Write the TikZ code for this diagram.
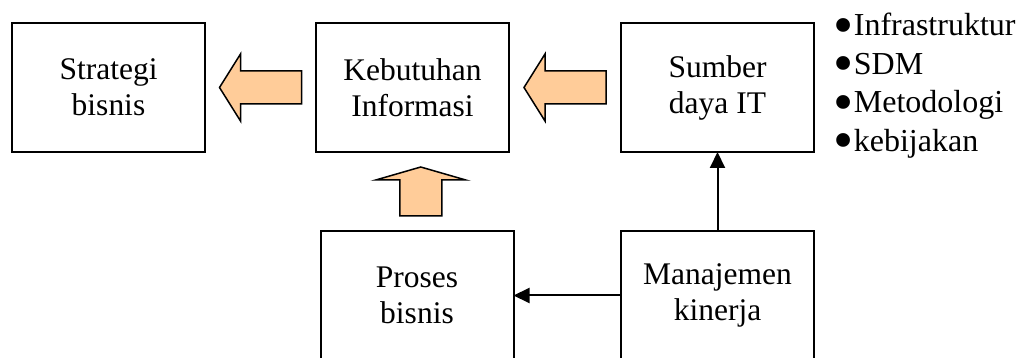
\documentclass[tikz,border=0pt]{standalone}
\usepackage{fontspec}
\setmainfont{Liberation Serif}
\usepackage{graphicx}
\usepackage{xcolor}
\usepackage{tikz}
\usetikzlibrary{arrows.meta,positioning,calc}

\definecolor{peach}{RGB}{255,204,153}

\newcommand{\itembullet}{\smash{\raisebox{-8.5pt}{\scalebox{1.8}{\textbullet}}}\hspace{0.5pt}}

\begin{document}
\begin{tikzpicture}[
    x=1pt, y=1pt,
    box/.style={
        draw,
        line width=2pt,
        outer sep=0pt,
        align=center,
        minimum width=193pt,
        minimum height=129pt,
        font=\fontsize{31.5}{36}\selectfont
    },
    fat/.style={
        draw,
        fill=peach,
        line width=1.5pt,
        line join=miter
    },
    link/.style={
        -{Triangle[length=16pt,width=15pt]},
        line width=2pt
    },
    items/.style={
        align=left,
        inner sep=0pt,
        font=\fontsize{32}{38.5}\selectfont
    }
]

\useasboundingbox (0,0) rectangle (1021,-358);

%---------------------------------------------------------------------
% Boxes
%---------------------------------------------------------------------

\node[box] (strat) at (108.5,-87.5) {Strategi\\bisnis};

\node[box, right=111pt of strat] (keb) {Kebutuhan\\Informasi};

\node[box, right=112pt of keb] (sum) {Sumber\\daya IT};

\node[box, below=79pt of keb, xshift=4.5pt] (pro) {Proses\\bisnis};

\node[box, below=79pt of sum] (man) {Manajemen\\kinerja};

%---------------------------------------------------------------------
% IT resources
%---------------------------------------------------------------------

\node[items, anchor=north west] (res) at ($(sum.north east)+(19,10)$) {
    \itembullet Infrastruktur\\
    \itembullet SDM\\
    \itembullet Metodologi\\
    \itembullet kebijakan
};

%---------------------------------------------------------------------
% Block arrows
%---------------------------------------------------------------------

\coordinate (a1) at ($(strat.east)!0.5!(keb.west)$);
\coordinate (a2) at ($(keb.east)!0.5!(sum.west)$);
\coordinate (a3) at ($(keb.south)!0.5!(pro.north)+(6,0)$);

\draw[fat] (a1) ++(41,16.5) -- ++(-61,0) -- ++(0,17) -- ++(-21,-33.5)
    -- ++(21,-33.5) -- ++(0,17) -- ++(61,0) -- cycle;
\draw[fat] (a2) ++(41,16.5) -- ++(-61,0) -- ++(0,17) -- ++(-21,-33.5)
    -- ++(21,-33.5) -- ++(0,17) -- ++(61,0) -- cycle;
\draw[fat] (a3) ++(21,-24.5) -- ++(0,36) -- ++(24,0) -- ++(-45,13)
    -- ++(-45,-13) -- ++(24,0) -- ++(0,-36) -- cycle;

%---------------------------------------------------------------------
% Links
%---------------------------------------------------------------------

\draw[link] (man) -- (sum);
\draw[link] (man) -- (pro);

\end{tikzpicture}
\end{document}
